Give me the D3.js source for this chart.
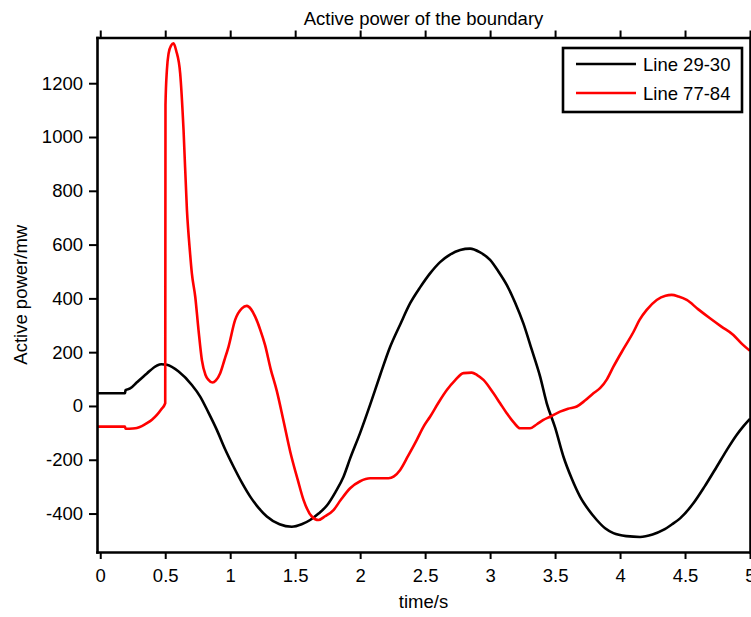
<!DOCTYPE html>
<html>
<head>
<meta charset="utf-8">
<script src="https://cdn.jsdelivr.net/npm/d3@7"></script>
<style>
  body { margin: 0; background: #fff; }
  svg text { font-family: "Liberation Sans", Arial, sans-serif; fill: #000; }
</style>
</head>
<body>
<div id="chart"></div>
<script>
// Active power of the boundary - two tie lines over time
const xTicks = [0, 0.5, 1, 1.5, 2, 2.5, 3, 3.5, 4, 4.5, 5];
const xTickLabels = ["0", "0.5", "1", "1.5", "2", "2.5", "3", "3.5", "4", "4.5", "5"];
const yTicks = [-400, -200, 0, 200, 400, 600, 800, 1000, 1200];
const yTickLabels = ["-400", "-200", "0", "200", "400", "600", "800", "1000", "1200"];
const seriesNames = ["Line 29-30", "Line 77-84"];
const seriesColors = ["#000000", "#ff0000"];

// Line 29-30 (black)
const timeA = [-0.025, 0.19, 0.195, 0.23, 0.282, 0.359, 0.436, 0.47, 0.513, 0.603, 0.705, 0.769, 0.833, 0.897,
  0.96, 1.026, 1.09, 1.154, 1.22, 1.282, 1.38, 1.474, 1.55, 1.615, 1.68, 1.744, 1.81, 1.872, 1.923, 2.0,
  2.077, 2.154, 2.231, 2.31, 2.385, 2.46, 2.538, 2.615, 2.692, 2.77, 2.846, 2.92, 3.0, 3.064, 3.128,
  3.192, 3.256, 3.32, 3.385, 3.436, 3.5, 3.564, 3.628, 3.692, 3.756, 3.821, 3.885, 3.949, 4.05, 4.154,
  4.25, 4.333, 4.4, 4.462, 4.564, 4.65, 4.744, 4.82, 4.897, 4.95, 5.0];
const powerA = [47, 47, 59, 65, 88, 121, 150, 155, 153, 128, 78, 35, -25, -89,
  -160, -226, -285, -337, -380, -411, -440, -449, -440, -424, -400, -370, -320, -263, -195, -100,
  5, 115, 220, 305, 382, 440, 493, 535, 563, 580, 585, 572, 543, 500, 450,
  385, 307, 210, 109, 10, -80, -188, -270, -337, -385, -424, -455, -473, -484, -487,
  -478, -461, -440, -418, -362, -300, -226, -165, -108, -75, -48];

// Line 77-84 (red)
const timeB = [-0.025, 0.19, 0.195, 0.25, 0.282, 0.32, 0.359, 0.4, 0.436, 0.47, 0.5, 0.502, 0.513, 0.526,
  0.545, 0.564, 0.585, 0.615, 0.641, 0.667, 0.69, 0.705, 0.731, 0.756, 0.782, 0.81, 0.833, 0.864, 0.89,
  0.923, 0.955, 0.987, 1.038, 1.09, 1.128, 1.16, 1.192, 1.23, 1.269, 1.31, 1.359, 1.41, 1.462, 1.52, 1.564,
  1.628, 1.679, 1.73, 1.795, 1.85, 1.923, 2.0, 2.077, 2.218, 2.26, 2.308, 2.37, 2.436, 2.49, 2.538, 2.6,
  2.667, 2.73, 2.795, 2.859, 2.9, 2.949, 3.026, 3.077, 3.128, 3.18, 3.231, 3.308, 3.36, 3.41, 3.462, 3.538,
  3.6, 3.667, 3.73, 3.795, 3.846, 3.9, 3.949, 4.03, 4.103, 4.15, 4.205, 4.282, 4.35, 4.397, 4.45, 4.513,
  4.6, 4.692, 4.78, 4.872, 4.94, 5.0];
const powerB = [-77, -77, -85, -84, -82, -75, -64, -50, -33, -12, 10, 1119, 1250, 1311,
  1340, 1348, 1320, 1237, 1026, 729, 575, 493, 406, 283, 171, 115, 97, 87, 95,
  122, 170, 220, 320, 363, 372, 360, 332, 285, 225, 140, 55, -55, -170, -275, -349,
  -411, -424, -410, -387, -350, -306, -280, -269, -269, -262, -238, -185, -126, -75, -40, 10,
  59, 95, 122, 124, 115, 97, 47, 10, -27, -60, -83, -83, -68, -52, -40, -21,
  -10, -2, 20, 47, 66, 100, 146, 215, 275, 320, 357, 394, 410, 413, 407, 394,
  360, 326, 295, 264, 230, 205];

const width = 751;
const height = 617;
const margin = { top: 37.5, right: 1, bottom: 65, left: 97 };

const series = [
  { name: seriesNames[0], color: seriesColors[0], values: timeA.map((t, i) => ({ t, p: powerA[i] })) },
  { name: seriesNames[1], color: seriesColors[1], values: timeB.map((t, i) => ({ t, p: powerB[i] })) }
];

const svg = d3.select("#chart").append("svg")
  .attr("width", width)
  .attr("height", height);

const x = d3.scaleLinear()
  .domain([-0.025, 5])
  .range([margin.left, width - margin.right]);

const y = d3.scaleLinear()
  .domain([-543, 1370])
  .range([height - margin.bottom, margin.top]);

svg.append("clipPath")
  .attr("id", "plot-clip")
  .append("rect")
  .attr("x", margin.left)
  .attr("y", margin.top)
  .attr("width", width - margin.right - margin.left)
  .attr("height", height - margin.bottom - margin.top);

const line = d3.line()
  .curve(d3.curveMonotoneX)
  .x(d => x(d.t))
  .y(d => y(d.p));

svg.append("g")
  .attr("clip-path", "url(#plot-clip)")
  .selectAll("path.series")
  .data(series)
  .enter()
  .append("path")
  .attr("class", "series")
  .attr("fill", "none")
  .attr("stroke", d => d.color)
  .attr("stroke-width", 2.6)
  .attr("stroke-linejoin", "round")
  .attr("d", d => line(d.values));

// axes, ticks pointing outward on all four sides
function styleAxis(g) {
  g.select(".domain").attr("stroke-width", 2.6).attr("stroke", "#000");
  g.selectAll(".tick line").attr("stroke-width", 2).attr("stroke", "#000");
  g.selectAll(".tick text").style("font-size", "18.5px").attr("fill", "#000");
}

svg.append("g")
  .attr("transform", `translate(0,${height - margin.bottom})`)
  .call(d3.axisBottom(x).tickValues(xTicks).tickFormat((d, i) => xTickLabels[i])
    .tickSize(7).tickSizeOuter(0).tickPadding(10))
  .call(styleAxis);

svg.append("g")
  .attr("transform", `translate(0,${margin.top})`)
  .call(d3.axisTop(x).tickValues(xTicks).tickFormat("").tickSize(7).tickSizeOuter(0))
  .call(styleAxis);

svg.append("g")
  .attr("transform", `translate(${margin.left},0)`)
  .call(d3.axisLeft(y).tickValues(yTicks).tickFormat((d, i) => yTickLabels[i])
    .tickSize(8).tickSizeOuter(0).tickPadding(6))
  .call(styleAxis);

svg.append("g")
  .attr("transform", `translate(${width - margin.right},0)`)
  .call(d3.axisRight(y).tickValues(yTicks).tickFormat("").tickSize(8).tickSizeOuter(0))
  .call(styleAxis);

svg.selectAll(".domain").attr("stroke-linecap", "square");

// title and labels
svg.append("text")
  .attr("x", (margin.left + width - margin.right) / 2)
  .attr("y", 25)
  .attr("text-anchor", "middle")
  .style("font-size", "18.5px")
  .text("Active power of the boundary");

svg.append("text")
  .attr("x", (margin.left + width - margin.right) / 2)
  .attr("y", 608)
  .attr("text-anchor", "middle")
  .style("font-size", "18.5px")
  .text("time/s");

svg.append("text")
  .attr("transform", "rotate(-90)")
  .attr("x", -(margin.top + height - margin.bottom) / 2)
  .attr("y", 27)
  .attr("text-anchor", "middle")
  .style("font-size", "18.5px")
  .text("Active power/mw");

// legend
const legend = svg.append("g")
  .attr("transform", "translate(563,48)");

legend.append("rect")
  .attr("width", 179)
  .attr("height", 64)
  .attr("fill", "#fff")
  .attr("stroke", "#000")
  .attr("stroke-width", 2.6);

const item = legend.selectAll("g.item")
  .data(series)
  .enter()
  .append("g")
  .attr("class", "item")
  .attr("transform", (d, i) => `translate(0,${16 + i * 29})`);

item.append("line")
  .attr("x1", 13)
  .attr("x2", 73)
  .attr("stroke", d => d.color)
  .attr("stroke-width", 2.6);

item.append("text")
  .attr("x", 80)
  .attr("y", 7)
  .style("font-size", "18.5px")
  .text(d => d.name);
</script>
</body>
</html>
